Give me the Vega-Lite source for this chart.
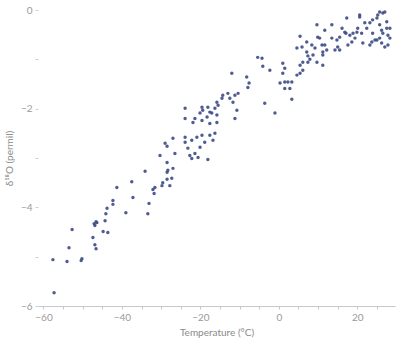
{
  "$schema": "https://vega.github.io/schema/vega-lite/v6.json",
  "width": 357,
  "height": 296,
  "autosize": "none",
  "padding": {"left": 38, "top": 10, "right": 4, "bottom": 39},
  "background": "white",
  "config": {
    "view": {"stroke": null},
    "font": "Lato"
  },
  "data": {
    "values": [
      {"t": -57.3, "d": -5.73}, {"t": -57.6, "d": -5.06}, {"t": -54.0, "d": -5.10}, {"t": -53.5, "d": -4.82},
      {"t": -52.7, "d": -4.45}, {"t": -50.4, "d": -5.08}, {"t": -50.2, "d": -5.04}, {"t": -47.4, "d": -4.61},
      {"t": -47.1, "d": -4.33}, {"t": -46.4, "d": -4.31}, {"t": -46.9, "d": -4.37}, {"t": -46.6, "d": -4.29},
      {"t": -46.9, "d": -4.76}, {"t": -46.6, "d": -4.84}, {"t": -44.8, "d": -4.49}, {"t": -43.6, "d": -4.51},
      {"t": -44.3, "d": -4.27}, {"t": -44.1, "d": -4.13}, {"t": -43.8, "d": -4.02}, {"t": -42.3, "d": -3.86},
      {"t": -42.3, "d": -3.94}, {"t": -41.3, "d": -3.60}, {"t": -39.0, "d": -4.11}, {"t": -37.5, "d": -3.48},
      {"t": -37.2, "d": -3.80}, {"t": -34.1, "d": -3.27}, {"t": -33.4, "d": -4.13}, {"t": -33.1, "d": -3.92},
      {"t": -32.1, "d": -3.64}, {"t": -31.6, "d": -3.60}, {"t": -31.8, "d": -3.72}, {"t": -29.8, "d": -3.56},
      {"t": -29.6, "d": -3.50}, {"t": -28.5, "d": -3.43}, {"t": -27.8, "d": -3.56}, {"t": -27.3, "d": -3.41},
      {"t": -28.5, "d": -3.29}, {"t": -28.3, "d": -3.25}, {"t": -27.0, "d": -3.21}, {"t": -30.3, "d": -2.95},
      {"t": -28.5, "d": -3.09}, {"t": -29.0, "d": -2.70}, {"t": -28.5, "d": -2.76}, {"t": -27.0, "d": -2.60},
      {"t": -26.5, "d": -2.91}, {"t": -23.9, "d": -2.68}, {"t": -23.9, "d": -2.58}, {"t": -23.2, "d": -2.80},
      {"t": -22.7, "d": -2.95}, {"t": -22.2, "d": -3.01}, {"t": -21.4, "d": -2.91}, {"t": -20.6, "d": -2.99},
      {"t": -20.1, "d": -2.78}, {"t": -22.2, "d": -2.64}, {"t": -20.9, "d": -2.58}, {"t": -19.6, "d": -2.54},
      {"t": -18.9, "d": -2.68}, {"t": -18.1, "d": -3.03}, {"t": -17.6, "d": -2.54}, {"t": -16.8, "d": -2.64},
      {"t": -16.3, "d": -2.50}, {"t": -23.9, "d": -2.20}, {"t": -23.9, "d": -1.99}, {"t": -21.9, "d": -2.28},
      {"t": -21.4, "d": -2.20}, {"t": -19.6, "d": -2.24}, {"t": -20.1, "d": -2.09}, {"t": -19.4, "d": -2.03},
      {"t": -19.6, "d": -1.97}, {"t": -18.1, "d": -1.97}, {"t": -17.6, "d": -2.07}, {"t": -18.3, "d": -2.17},
      {"t": -17.1, "d": -2.09}, {"t": -16.3, "d": -1.99}, {"t": -15.8, "d": -2.13}, {"t": -15.5, "d": -1.93},
      {"t": -15.8, "d": -1.87}, {"t": -14.5, "d": -1.79}, {"t": -14.3, "d": -1.73}, {"t": -13.0, "d": -1.69},
      {"t": -12.5, "d": -1.79}, {"t": -11.7, "d": -1.87}, {"t": -11.2, "d": -1.73}, {"t": -10.4, "d": -1.69},
      {"t": -12.0, "d": -1.28}, {"t": -8.2, "d": -1.36}, {"t": -7.6, "d": -1.48}, {"t": -7.9, "d": -1.57},
      {"t": -10.7, "d": -2.03}, {"t": -11.2, "d": -2.20}, {"t": -17.6, "d": -2.30}, {"t": -15.8, "d": -2.28},
      {"t": -5.4, "d": -0.96}, {"t": -4.3, "d": -0.98}, {"t": -4.1, "d": -1.14}, {"t": -2.3, "d": -1.22},
      {"t": 1.0, "d": -1.08}, {"t": 1.5, "d": -1.18}, {"t": 1.0, "d": -1.28}, {"t": 0.3, "d": -1.48},
      {"t": 1.5, "d": -1.46}, {"t": 2.3, "d": -1.46}, {"t": 2.8, "d": -1.59}, {"t": 1.5, "d": -1.59},
      {"t": 3.3, "d": -1.81}, {"t": -3.6, "d": -1.89}, {"t": -1.0, "d": -2.09}, {"t": 3.3, "d": -1.46},
      {"t": 4.6, "d": -1.32}, {"t": 5.4, "d": -1.28}, {"t": 6.1, "d": -1.22}, {"t": 5.4, "d": -1.12},
      {"t": 6.1, "d": -1.06}, {"t": 4.6, "d": -0.77}, {"t": 5.4, "d": -0.53}, {"t": 5.9, "d": -0.75},
      {"t": 7.1, "d": -0.85}, {"t": 7.4, "d": -0.93}, {"t": 7.9, "d": -1.00}, {"t": 8.7, "d": -0.91},
      {"t": 9.2, "d": -0.77}, {"t": 8.4, "d": -0.71}, {"t": 7.1, "d": -0.65}, {"t": 10.4, "d": -0.57},
      {"t": 11.0, "d": -0.71}, {"t": 11.2, "d": -0.85}, {"t": 9.7, "d": -1.06}, {"t": 11.2, "d": -1.12},
      {"t": 7.4, "d": -1.06}, {"t": 11.7, "d": -0.41}, {"t": 9.7, "d": -0.30}, {"t": 9.9, "d": -0.55},
      {"t": 11.7, "d": -0.71}, {"t": 12.2, "d": -0.81}, {"t": 11.2, "d": -0.91}, {"t": 13.5, "d": -0.57},
      {"t": 13.5, "d": -0.30}, {"t": 14.8, "d": -0.61}, {"t": 15.5, "d": -0.55}, {"t": 16.1, "d": -0.37},
      {"t": 16.8, "d": -0.45}, {"t": 17.3, "d": -0.16}, {"t": 18.1, "d": -0.51}, {"t": 17.6, "d": -0.71},
      {"t": 18.6, "d": -0.65}, {"t": 15.5, "d": -0.81}, {"t": 14.3, "d": -0.81}, {"t": 15.0, "d": -0.75},
      {"t": 19.4, "d": -0.57}, {"t": 19.9, "d": -0.45}, {"t": 20.1, "d": -0.37}, {"t": 20.6, "d": -0.10},
      {"t": 21.1, "d": -0.47}, {"t": 21.4, "d": -0.67}, {"t": 22.4, "d": -0.37}, {"t": 23.2, "d": -0.26},
      {"t": 23.9, "d": -0.20}, {"t": 23.7, "d": -0.65}, {"t": 23.2, "d": -0.71}, {"t": 25.0, "d": -0.16},
      {"t": 25.2, "d": -0.10}, {"t": 25.7, "d": -0.04}, {"t": 26.5, "d": -0.06}, {"t": 27.0, "d": -0.04},
      {"t": 25.7, "d": -0.30}, {"t": 26.2, "d": -0.41}, {"t": 26.5, "d": -0.47}, {"t": 27.5, "d": -0.37},
      {"t": 27.8, "d": -0.51}, {"t": 28.3, "d": -0.57}, {"t": 25.7, "d": -0.57}, {"t": 26.2, "d": -0.67},
      {"t": 27.0, "d": -0.75}, {"t": 27.8, "d": -0.71}, {"t": 25.0, "d": -0.61}, {"t": 28.3, "d": -0.37},
      {"t": 27.5, "d": -0.24}, {"t": 24.5, "d": -0.61}, {"t": 23.9, "d": -0.47}, {"t": 21.9, "d": -0.26},
      {"t": 20.6, "d": -0.14}, {"t": 17.1, "d": -0.47}, {"t": 18.9, "d": -0.47}
    ]
  },
  "mark": {"type": "point", "filled": true, "size": 12, "color": "#3c4a86", "opacity": 0.9},
  "encoding": {
    "x": {
      "field": "t",
      "type": "quantitative",
      "scale": {"domain": [-61.4, 29.6], "nice": false, "zero": false},
      "axis": {
        "title": "Temperature (°C)",
        "values": [-60, -55, -50, -45, -40, -35, -30, -25, -20, -15, -10, -5, 0, 5, 10, 15, 20, 25],
        "labelExpr": "datum.value % 20 == 0 ? datum.label : ''",
        "format": "d",
        "grid": false,
        "domainColor": "#c8c8c8",
        "tickColor": "#c8c8c8",
        "tickSize": 3,
        "labelColor": "#9a9a9a",
        "labelFontSize": 10,
        "labelPadding": 3,
        "titleColor": "#8a8a8a",
        "titleFontSize": 10,
        "titleFontWeight": "normal",
        "titlePadding": 5
      }
    },
    "y": {
      "field": "d",
      "type": "quantitative",
      "scale": {"domain": [-6, 0], "nice": false, "zero": false},
      "axis": {
        "title": "δ¹⁸O (permil)",
        "values": [-6, -5.5, -5, -4.5, -4, -3.5, -3, -2.5, -2, -1.5, -1, -0.5, 0],
        "labelExpr": "datum.value % 2 == 0 ? datum.label : ''",
        "format": "d",
        "grid": false,
        "domain": false,
        "tickColor": "#d0d0d0",
        "tickSize": 3,
        "labelColor": "#9a9a9a",
        "labelFontSize": 10,
        "labelPadding": 3,
        "titleColor": "#8a8a8a",
        "titleFontSize": 10,
        "titleFontWeight": "normal",
        "titlePadding": 6
      }
    }
  }
}
